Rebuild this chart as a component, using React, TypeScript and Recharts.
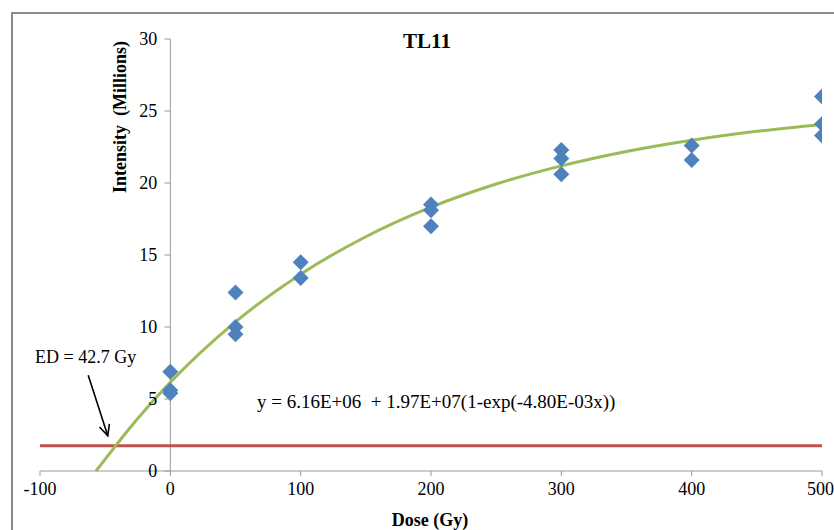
import React from "react";
import { ComposedChart, Line, Scatter, XAxis, YAxis, ReferenceLine } from "recharts";

// measured doses and intensities (millions)
const doseX = [0, 0, 0, 50, 50, 50, 100, 100, 200, 200, 200, 300, 300, 300, 400, 400, 500, 500, 500];
const intensityY = [6.9, 5.4, 5.6, 12.4, 10.0, 9.5, 14.5, 13.4, 18.5, 18.1, 17.0, 22.3, 21.7, 20.6, 22.6, 21.6, 26.0, 24.1, 23.3];

// fitted curve
const fitX = [-57, -25, 0, 50, 100, 150, 200, 250, 300, 350, 400, 450, 500];
const fitY = [0, 3.65, 6.16, 10.36, 13.67, 16.27, 18.32, 19.93, 21.19, 22.19, 22.97, 23.59, 24.07];

const xTicks = [-100, 0, 100, 200, 300, 400, 500];
const yTicks = [0, 5, 10, 15, 20, 25, 30];
const threshold = 1.75;
const arrowFrom = { x: -63, y: 6.65 };
const arrowTo = { x: -48, y: 2.45 };

const points = doseX.map((x, i) => ({ x, y: intensityY[i] }));
const fit = fitX.map((x, i) => ({ x, y: fitY[i] }));

const W = 834;
const H = 530;
const Y_W = 40;
const M = { top: 39, right: 12, bottom: 29, left: 0 };
const PLOT_W = W - M.left - Y_W - M.right;
const X0 = M.left + Y_W + (100 / 600) * PLOT_W; // pixel of dose 0, where the y axis crosses

const serif = "'Liberation Serif', 'Times New Roman', serif";
const axisGray = "#9a9a9a";

function Diamond(props: any) {
  const { cx, cy } = props;
  const r = 8;
  return <polygon points={`${cx},${cy - r} ${cx + r},${cy} ${cx},${cy + r} ${cx - r},${cy}`} fill="#4F81BD" />;
}

function YTick(props: any) {
  const { y, payload } = props;
  return (
    <g>
      <line x1={X0 - 6} x2={X0} y1={y} y2={y} stroke={axisGray} />
      <text x={X0 - 13} y={y} dy={6} textAnchor="end" fontSize={18} fontFamily={serif} fill="#000">
        {payload.value}
      </text>
    </g>
  );
}

function Arrow(props: any) {
  const { x1, y1, x2, y2 } = props;
  const a = Math.atan2(y2 - y1, x2 - x1);
  const len = 12;
  const s = 0.45;
  const p1 = `${x2 - len * Math.cos(a - s)},${y2 - len * Math.sin(a - s)}`;
  const p2 = `${x2 - len * Math.cos(a + s)},${y2 - len * Math.sin(a + s)}`;
  return (
    <g stroke="#000" strokeWidth={1.6} fill="none">
      <line x1={x1} y1={y1} x2={x2} y2={y2} />
      <polyline points={`${p1} ${x2},${y2} ${p2}`} />
    </g>
  );
}

const label: React.CSSProperties = { position: "absolute", fontFamily: serif, color: "#000", whiteSpace: "pre", lineHeight: 1 };

export default function App() {
  return (
    <div style={{ position: "absolute", left: 0, top: 0, width: W, height: H, background: "#fff", overflow: "hidden" }}>
      <div style={{ position: "absolute", left: 11, top: 12, width: W, height: H, borderLeft: "2px solid #8a8a8a", borderTop: "2px solid #8a8a8a" }} />
      <ComposedChart width={W} height={H} margin={M} style={{ position: "absolute", left: 0, top: 0 }}>
        <XAxis
          type="number"
          dataKey="x"
          domain={[-100, 500]}
          ticks={xTicks}
          allowDataOverflow
          stroke={axisGray}
          tickSize={5}
          tickMargin={6}
          tick={{ fill: "#000", fontSize: 18, fontFamily: serif }}
        />
        <YAxis
          type="number"
          dataKey="y"
          domain={[0, 30]}
          ticks={yTicks}
          width={Y_W}
          axisLine={false}
          tickLine={false}
          tick={(p: any) => <YTick {...p} />}
        />
        <ReferenceLine x={0} stroke={axisGray} />
        <ReferenceLine y={threshold} stroke="#C0504D" strokeWidth={3} />
        <Line data={fit} dataKey="y" type="monotone" stroke="#9BBB59" strokeWidth={3} dot={false} isAnimationActive={false} />
        <Scatter data={points} dataKey="y" shape={<Diamond />} isAnimationActive={false} />
        <ReferenceLine segment={[arrowFrom, arrowTo]} shape={(p: any) => <Arrow {...p} />} />
      </ComposedChart>
      <div style={{ ...label, left: 427, top: 41, transform: "translate(-50%, -50%)", fontWeight: "bold", fontSize: 21 }}>TL11</div>
      <div style={{ ...label, left: 430, top: 520, transform: "translate(-50%, -50%)", fontWeight: "bold", fontSize: 18 }}>Dose (Gy)</div>
      <div
        style={{ ...label, left: 120, top: 117, transform: "translate(-50%, -50%) rotate(-90deg)", fontWeight: "bold", fontSize: 18 }}
      >
        Intensity  (Millions)
      </div>
      <div style={{ ...label, left: 35, top: 357, transform: "translateY(-50%)", fontSize: 18 }}>ED = 42.7 Gy</div>
      <div style={{ ...label, left: 257, top: 401, transform: "translateY(-50%)", fontSize: 19 }}>
        y = 6.16E+06  + 1.97E+07(1-exp(-4.80E-03x))
      </div>
    </div>
  );
}
